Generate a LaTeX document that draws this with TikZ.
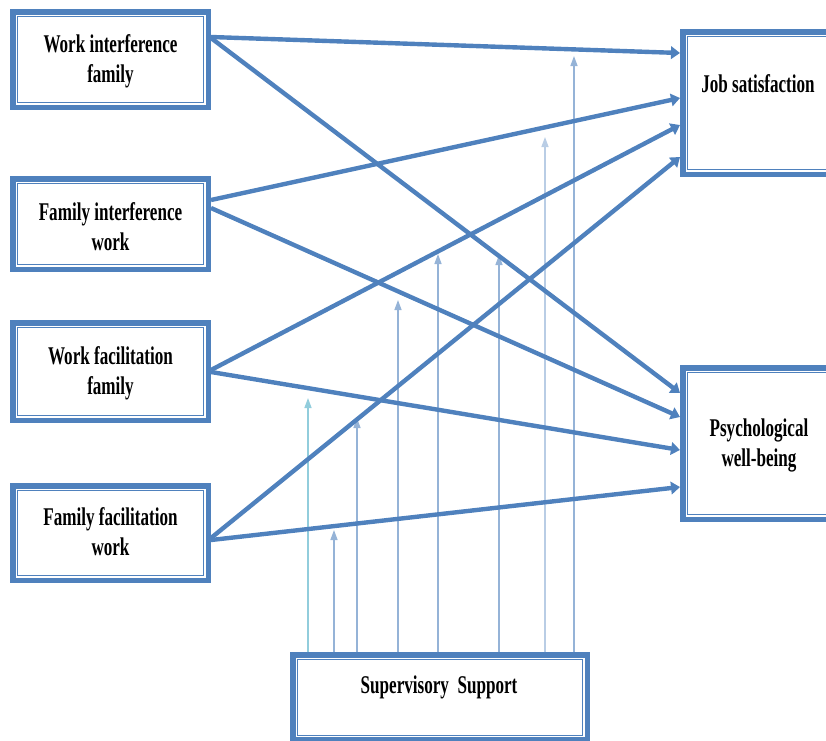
\documentclass[tikz,border=0pt]{standalone}
\usepackage{fontspec}
\newfontfamily\lblfont{Liberation Serif}[FakeStretch=0.67]
\usetikzlibrary{arrows.meta,calc}
\definecolor{blu}{HTML}{4F81BD}
\definecolor{thinblu}{HTML}{95B3D7}
\definecolor{thincyan}{HTML}{92CDDC}
\definecolor{paleblu}{HTML}{B9CDE5}
\begin{document}
\begin{tikzpicture}[x=1pt,y=-1pt,
 box/.style={draw=blu,line width=5.5pt,rectangle,inner sep=0pt},
 innerline/.style={draw=blu,line width=1.3pt},
 lbl/.style={font=\lblfont\bfseries\fontsize{25.5}{30}\selectfont,align=center,inner sep=0pt},
 bigarrow/.style={draw=blu,line width=4.4pt,-{Triangle[length=9pt,width=12.5pt]}},
 modarrow/.style={draw=thinblu,line width=1.4pt,-{Triangle[length=10pt,width=7pt]}},
]
\useasboundingbox (0,0) rectangle (826,740);
\clip (0,0) rectangle (826,740);

% boxes
\node[box,minimum width=195.5pt,minimum height=95.5pt] (wif) at (110.5,59.5) {};
\node[box,minimum width=195.5pt,minimum height=90.5pt] (fiw) at (110.5,224) {};
\node[box,minimum width=195.5pt,minimum height=97.5pt] (wff) at (110.5,371.5) {};
\node[box,minimum width=195.5pt,minimum height=94.5pt] (ffw) at (110.5,533) {};
\node[box,minimum width=154.5pt,minimum height=142.5pt] (js) at (760,103) {};
\node[box,minimum width=154.5pt,minimum height=151.5pt] (pwb) at (760,443.5) {};
\node[box,minimum width=294.5pt,minimum height=85pt] (sup) at (440,697.5) {};

\foreach \n in {wif,fiw,wff,ffw,js,pwb,sup}
  \draw[innerline] ([xshift=7.5pt,yshift=-7.5pt]\n.north west) rectangle ([xshift=-7.5pt,yshift=7.5pt]\n.south east);

% labels
\node[lbl] (t1) at (110.5,61) {Work interference\\family};
\node[lbl] (t2) at (110.5,226.5) {Family interference\\work};
\node[lbl] (t3) at (110.5,373.5) {Work facilitation\\family};
\node[lbl] (t4) at (110.5,531.5) {Family facilitation\\work};
\node[lbl,anchor=base] (t5) at (758,92) {Job satisfaction};
\node[lbl] (t6) at (759,445.5) {Psychological\\well-being};
\node[lbl,anchor=base] (t7) at (439,693) {Supervisory\ \ Support};

% moderation arrows
\coordinate (m1) at (308,398);
\coordinate (m2) at (334,530);
\coordinate (m3) at (357,418);
\coordinate (m4) at (398,300);
\coordinate (m5) at (438,254);
\coordinate (m6) at (499,255);
\coordinate (m7) at (545,137);
\coordinate (m8) at (574,56);
\draw[modarrow,draw=thincyan] ([xshift=-132pt]sup.north) -- (m1);
\draw[modarrow] ([xshift=-106pt]sup.north) -- (m2);
\draw[modarrow] ([xshift=-83pt]sup.north) -- (m3);
\draw[modarrow] ([xshift=-42pt]sup.north) -- (m4);
\draw[modarrow] ([xshift=-2pt]sup.north) -- (m5);
\draw[modarrow] ([xshift=59pt]sup.north) -- (m6);
\draw[modarrow,draw=paleblu] ([xshift=105pt]sup.north) -- (m7);
\draw[modarrow] ([xshift=134pt]sup.north) -- (m8);

% main paths
\draw[bigarrow] ([yshift=22.5pt]wif.east) -- ([yshift=50pt]js.west);
\draw[bigarrow] ([yshift=21.5pt]wif.east) -- ([yshift=50.5pt]pwb.west);
\draw[bigarrow] ([yshift=24pt]fiw.east) -- ([yshift=5pt]js.west);
\draw[bigarrow] ([yshift=16pt]fiw.east) -- ([yshift=26.5pt]pwb.west);
\draw[bigarrow] ([yshift=1.5pt]wff.east) -- ([yshift=-22pt]js.west);
\draw[bigarrow] ([yshift=-0.5pt]wff.east) -- ([yshift=-6.5pt]pwb.west);
\draw[bigarrow] ([yshift=-5pt]ffw.east) -- ([yshift=-54pt]js.west);
\draw[bigarrow] ([yshift=-7pt]ffw.east) -- ([yshift=-43.5pt]pwb.west);
\end{tikzpicture}
\end{document}
